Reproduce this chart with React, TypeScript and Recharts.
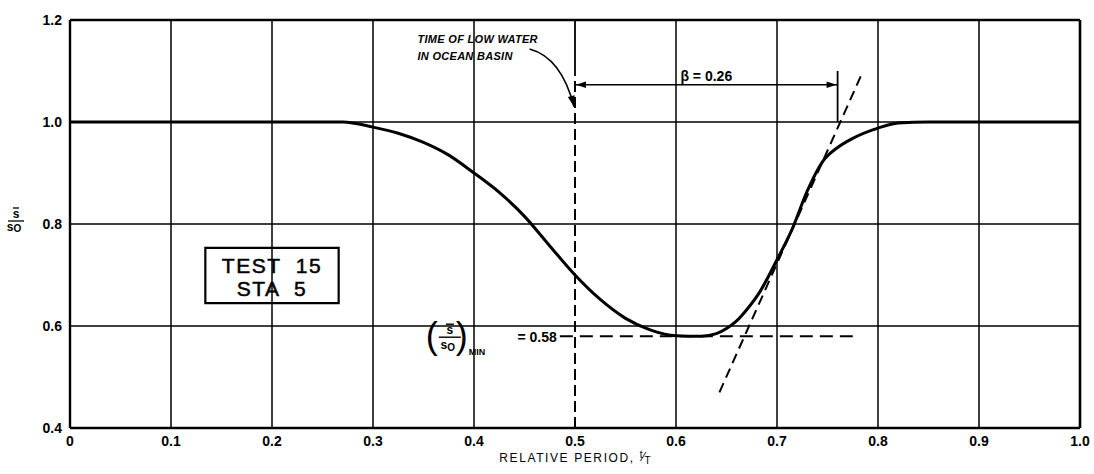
import React from 'react';
import { LineChart, Line, XAxis, YAxis, ReferenceLine, ReferenceArea, ReferenceDot } from 'recharts';

// ---- data ----
const periodX = [0, 0.1, 0.2, 0.25, 0.27, 0.3, 0.325, 0.35, 0.375, 0.4, 0.425, 0.45, 0.475, 0.5, 0.525, 0.55, 0.575, 0.6, 0.625, 0.64, 0.65, 0.66, 0.67, 0.683, 0.7, 0.715, 0.73, 0.745, 0.76, 0.775, 0.8, 0.82, 0.85, 0.9, 1.0];
const ratioY = [1, 1, 1, 1, 1, 0.99, 0.978, 0.96, 0.935, 0.9, 0.862, 0.815, 0.757, 0.7, 0.652, 0.615, 0.592, 0.581, 0.58, 0.585, 0.595, 0.61, 0.632, 0.667, 0.73, 0.79, 0.865, 0.922, 0.95, 0.968, 0.988, 0.998, 1, 1, 1];
const xTicks = [0, 0.1, 0.2, 0.3, 0.4, 0.5, 0.6, 0.7, 0.8, 0.9, 1.0];
const yTicks = [0.4, 0.6, 0.8, 1.0, 1.2];
const lowWaterT = 0.5;
const lowWaterTop = 1.09;
const beta = 0.26;
const betaLineY = 1.073;
const betaTickTop = 1.1;
const minRatio = 0.58;
const minLineX = [0.485, 0.775];
const minGapX = [0.35, 0.485];
const tangentX = [0.643, 0.783];
const tangentY = [0.47, 1.09];
const boxX = [0.134, 0.266];
const boxY = [0.645, 0.753];
const boxLines = ['TEST  15', 'STA  5'];
const noteLines = ['TIME OF LOW WATER', 'IN OCEAN BASIN'];
const noteAnchor = { x: 0.344, y: 1.155 };
const noteArrow = [{ x: 0.455, y: 1.143 }, { x: 0.499, y: 1.03 }];
const betaText = 'β = 0.26';
const minText = '= 0.58';
const xLabelText = 'RELATIVE PERIOD, ';

const FONT = '"Liberation Sans", Arial, sans-serif';

const data = periodX.map((x, i) => ({ x, y: ratioY[i] }));

const arrowHead = (tx: number, ty: number, dx: number, dy: number, len = 10, half = 3.2) => {
  const l = Math.hypot(dx, dy) || 1;
  const ux = dx / l, uy = dy / l;
  const bx = tx - ux * len, by = ty - uy * len;
  const px = -uy * half, py = ux * half;
  return `${tx},${ty} ${bx + px},${by + py} ${bx - px},${by - py}`;
};

const BetaDim = (p: any) => {
  const { x1, y1, x2, y2 } = p;
  return (
    <g>
      <line x1={x1} y1={y1} x2={x2} y2={y2} stroke="#000" strokeWidth={1.6} />
      <polygon points={arrowHead(x1 + 1, y1, -1, 0)} fill="#000" />
      <polygon points={arrowHead(x2 - 1, y2, 1, 0)} fill="#000" />
    </g>
  );
};

const CurvedArrow = (p: any) => {
  const { x1, y1, x2, y2 } = p;
  const cx = x1 + 0.72 * (x2 - x1);
  const cy = y1 + 0.15 * (y2 - y1);
  return (
    <g>
      <path d={`M${x1},${y1} Q${cx},${cy} ${x2},${y2}`} fill="none" stroke="#000" strokeWidth={1.6} />
      <polygon points={arrowHead(x2, y2, x2 - cx, y2 - cy, 11, 3.5)} fill="#000" />
    </g>
  );
};

const NoteText = (p: any) => (
  <g fontFamily={FONT} fontSize={11} fontWeight={700} fontStyle="italic" fill="#000">
    {noteLines.map((t, i) => (
      <text key={i} x={p.cx} y={p.cy + i * 17} letterSpacing={0.3}>{t}</text>
    ))}
  </g>
);

const BetaLabel = (p: any) => (
  <text x={p.cx} y={p.cy - 4} textAnchor="middle" fontFamily={FONT} fontSize={14} fontWeight={700} fill="#000">
    {betaText}
  </text>
);

const MinLabel = (p: any) => {
  const { cx, cy } = p;
  const fx = cx - 110;
  return (
    <g fontFamily={FONT} fill="#000">
      <text x={cx - 3} y={cy + 6} textAnchor="end" fontSize={14} fontWeight={700}>{minText}</text>
      <text x={cx - 134} y={cy + 12} fontSize={36} fontWeight={400}>(</text>
      <text x={cx - 104} y={cy + 12} fontSize={36} fontWeight={400}>)</text>
      <text x={fx} y={cy - 2} textAnchor="middle" fontSize={12} fontWeight={700}>s</text>
      <line x1={fx - 4} y1={cy - 12} x2={fx + 4} y2={cy - 12} stroke="#000" strokeWidth={1.4} />
      <line x1={fx - 11} y1={cy + 1} x2={fx + 11} y2={cy + 1} stroke="#000" strokeWidth={1.4} />
      <text x={fx - 2} y={cy + 13} textAnchor="middle" fontSize={12} fontWeight={700}>s
        <tspan fontSize={10} dy={2}>O</tspan>
      </text>
      <text x={cx - 91} y={cy + 19} fontSize={9} fontWeight={700}>MIN</text>
    </g>
  );
};

const BoxText = (p: any) => {
  const vb = p.viewBox;
  const cx = vb.x + vb.width / 2;
  return (
    <g fontFamily={FONT} fontSize={21} fontWeight={400} fill="#000" stroke="#000" strokeWidth={0.5} textAnchor="middle">
      <text x={cx} y={vb.y + 25} letterSpacing={1.5} style={{ whiteSpace: 'pre' }}>{boxLines[0]}</text>
      <text x={cx} y={vb.y + 48} letterSpacing={1.5} style={{ whiteSpace: 'pre' }}>{boxLines[1]}</text>
    </g>
  );
};

const YLabel = (p: any) => {
  const vb = p.viewBox;
  const x = vb.x + 6;
  const y = vb.y + vb.height / 2 - 3;
  return (
    <g fontFamily={FONT} fill="#000" fontWeight={700}>
      <text x={x} y={y - 3} textAnchor="middle" fontSize={12}>s</text>
      <line x1={x - 3} y1={y - 13} x2={x + 3} y2={y - 13} stroke="#000" strokeWidth={1.3} />
      <line x1={x - 8} y1={y} x2={x + 8} y2={y} stroke="#000" strokeWidth={1.3} />
      <text x={x - 2} y={y + 10} textAnchor="middle" fontSize={12}>s
        <tspan fontSize={10} dy={1}>O</tspan>
      </text>
    </g>
  );
};

const XLabel = (p: any) => {
  const vb = p.viewBox;
  const cx = vb.x + vb.width / 2;
  return (
    <text x={cx} y={vb.y + 34} textAnchor="middle" fontFamily={FONT} fontSize={12} letterSpacing={1.6} fill="#000" style={{ whiteSpace: 'pre' }}>
      {xLabelText}
      <tspan fontSize={10} dy={-4} letterSpacing={0}>t</tspan>
      <tspan fontSize={13} dy={3} letterSpacing={0}>⁄</tspan>
      <tspan fontSize={10} dy={3} letterSpacing={0}>T</tspan>
    </text>
  );
};

const fmtX = (v: number) => (v === 0 ? '0' : v.toFixed(1));
const fmtY = (v: number) => v.toFixed(1);

export default function App() {
  const tickStyle = { fill: '#000', fontSize: 14, fontWeight: 700, fontFamily: FONT };
  return (
    <div style={{ position: 'absolute', left: 0, top: 0, width: 1094, height: 474, background: '#fff' }}>
      <LineChart width={1094} height={474} data={data} margin={{ top: 20, right: 14, bottom: 16, left: 10 }}>
        <XAxis dataKey="x" type="number" domain={[0, 1]} ticks={xTicks} tickFormatter={fmtX} interval={0}
          axisLine={{ stroke: '#000', strokeWidth: 2.4 }} tickLine={false} height={30} tick={tickStyle}
          label={{ content: XLabel }} />
        <YAxis type="number" domain={[0.4, 1.2]} ticks={yTicks} tickFormatter={fmtY} interval={0}
          axisLine={{ stroke: '#000', strokeWidth: 2.4 }} tickLine={false} width={60} tick={tickStyle}
          label={{ content: YLabel }} />

        {yTicks.filter((v) => v > 0.4).map((v) => (
          <ReferenceLine key={'h' + v} y={v} stroke="#000" strokeWidth={v === 1.2 ? 2.4 : 1.5} />
        ))}
        {xTicks.filter((v) => v > 0 && v !== lowWaterT).map((v) => (
          <ReferenceLine key={'v' + v} x={v} stroke="#000" strokeWidth={v === 1 ? 2.6 : 1.5} />
        ))}
        <ReferenceLine segment={[{ x: lowWaterT, y: lowWaterTop }, { x: lowWaterT, y: 1.2 }]} stroke="#000" strokeWidth={1.8} />
        <ReferenceLine segment={[{ x: lowWaterT, y: 0.4 }, { x: lowWaterT, y: lowWaterTop }]} stroke="#000" strokeWidth={2} strokeDasharray="11 5" />

        <ReferenceArea x1={boxX[0]} x2={boxX[1]} y1={boxY[0]} y2={boxY[1]} fill="#fff" fillOpacity={1} stroke="#000" strokeWidth={2.2}
          label={{ content: BoxText }} />
        <ReferenceArea x1={minGapX[0]} x2={minGapX[1]} y1={0.594} y2={0.606} fill="#fff" fillOpacity={1} stroke="none" />

        <ReferenceLine segment={[{ x: minLineX[0], y: minRatio }, { x: minLineX[1], y: minRatio }]} stroke="#000" strokeWidth={2} strokeDasharray="13 7" />
        <ReferenceLine segment={[{ x: tangentX[0], y: tangentY[0] }, { x: tangentX[1], y: tangentY[1] }]} stroke="#000" strokeWidth={2} strokeDasharray="10 6" />
        <ReferenceLine segment={[{ x: lowWaterT + beta, y: 1.0 }, { x: lowWaterT + beta, y: betaTickTop }]} stroke="#000" strokeWidth={1.8} />
        <ReferenceLine segment={[{ x: lowWaterT, y: betaLineY }, { x: lowWaterT + beta, y: betaLineY }]} shape={BetaDim} />
        <ReferenceLine segment={noteArrow} shape={CurvedArrow} />

        <ReferenceDot x={lowWaterT + beta / 2} y={betaLineY} r={0} shape={BetaLabel} />
        <ReferenceDot x={noteAnchor.x} y={noteAnchor.y} r={0} shape={NoteText} />
        <ReferenceDot x={minLineX[0]} y={minRatio} r={0} shape={MinLabel} />

        <Line type="monotone" dataKey="y" stroke="#000" strokeWidth={3} dot={false} activeDot={false} isAnimationActive={false} />
      </LineChart>
    </div>
  );
}
